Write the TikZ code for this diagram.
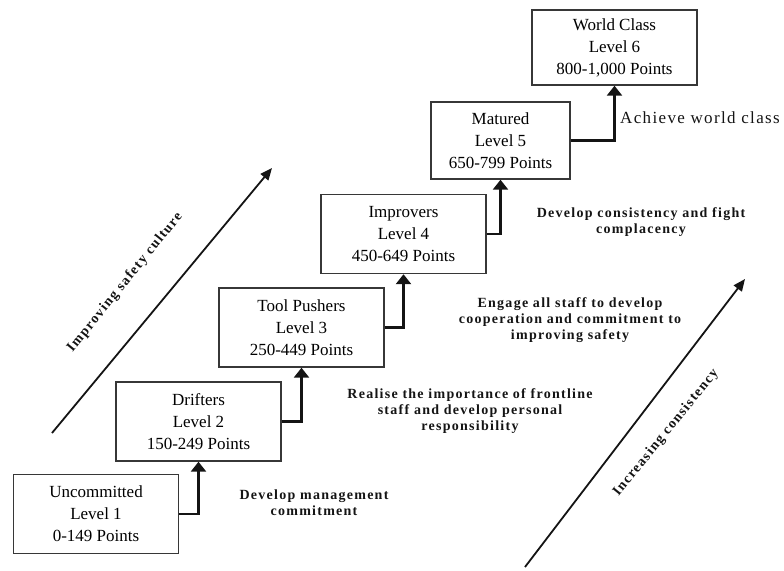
\documentclass[tikz,border=0pt]{standalone}
\usepackage{fontspec}
\setmainfont{Liberation Serif}
\newfontfamily\notefont[LetterSpace=9]{Liberation Serif}
\newfontfamily\classfont[LetterSpace=8]{Liberation Serif}
\usepackage{tikz}
\usetikzlibrary{arrows.meta}
\definecolor{StageGray}{RGB}{55,55,55}
\definecolor{InkBlack}{RGB}{20,20,20}

\begin{document}
\begin{tikzpicture}[x=1pt,y=-1pt,>={Triangle[length=10pt,width=15pt]},
    stage/.style={draw=StageGray,line width=1.4pt,fill=white,align=center,
      minimum width=165pt,minimum height=79pt,inner sep=0pt,
      font=\fontsize{17}{22}\selectfont},
    climb/.style={->,line width=2.6pt,InkBlack},
    trend/.style={-{Triangle[length=12pt,width=10pt]},line width=1.8pt,InkBlack},
    note/.style={align=center,text=InkBlack,
      font=\notefont\bfseries\fontsize{14}{16}\selectfont},
    trendtext/.style={text=InkBlack,rotate=51,
      font=\notefont\bfseries\fontsize{14}{16}\selectfont}]
  \useasboundingbox (0,0) rectangle (784,570);
  \node[stage] (uncommitted) at (96,514) {Uncommitted\\Level 1\\0-149 Points};
  \node[stage] (drifters) at (198.5,421.5) {Drifters\\Level 2\\150-249 Points};
  \node[stage] (pushers) at (301.5,327.5) {Tool Pushers\\Level 3\\250-449 Points};
  \node[stage] (improvers) at (403.5,234) {Improvers\\Level 4\\450-649 Points};
  \node[stage,minimum width=139pt,minimum height=77pt] (matured) at (500.5,140.5)
    {Matured\\Level 5\\650-799 Points};
  \node[stage,minimum height=75pt] (worldclass) at (614.5,47.5)
    {World Class\\Level 6\\800-1,000 Points};
  \draw[climb] (uncommitted.east) -| (drifters.south);
  \draw[climb] (drifters.east) -| (pushers.south);
  \draw[climb] (pushers.east) -| (improvers.south);
  \draw[climb] (improvers.east) -| (matured.south);
  \draw[climb] (matured.east) -| (worldclass.south);
  \node[note] (mgmt) at (314,503) {Develop management\\commitment};
  \node[note] (frontline) at (470,411)
    {Realise the importance of frontline\\staff and develop personal\\responsibility};
  \node[note] (engage) at (570,320)
    {Engage all staff to develop\\cooperation and commitment to\\improving safety};
  \node[note] (consist) at (641,222) {Develop consistency and fight\\complacency};
  \node[text=InkBlack,font=\classfont\fontsize{17}{20}\selectfont] (achieve) at (700,118)
    {Achieve world class};
  \coordinate (cultureA) at (52,433);
  \coordinate (cultureB) at (272,168);
  \coordinate (consistA) at (525,567);
  \coordinate (consistB) at (745,279);
  \draw[trend] (cultureA) -- (cultureB);
  \draw[trend] (consistA) -- (consistB);
  \node[trendtext] (culture) at (125,282.5) {Improving safety culture};
  \node[trendtext] (consistency) at (666,433) {Increasing consistency};
\end{tikzpicture}
\end{document}
